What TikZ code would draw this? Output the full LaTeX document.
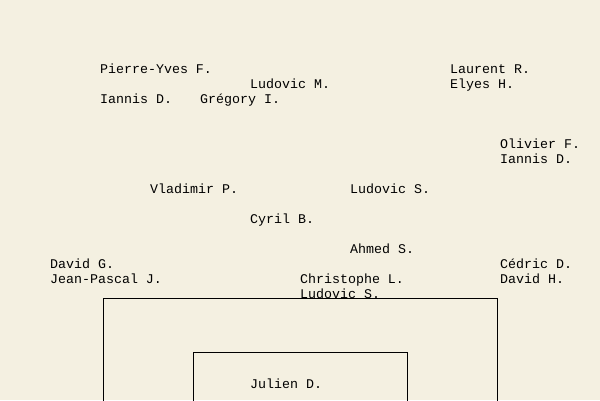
\documentclass[tikz,border=0pt]{standalone}
\usepackage{fontspec}
\setmonofont{Liberation Mono}
\definecolor{pitch}{HTML}{F4F0E1}

\begin{document}
\begin{tikzpicture}[x=1pt,y=-1pt,
		player/.style={anchor=base west,inner sep=0pt,font=\ttfamily\fontsize{13.3}{15}\selectfont}]
		\fill[pitch] (0,0) rectangle (600,400);
		\useasboundingbox (0,0) rectangle (600,400);
		
		\foreach \n/\x/\y[count=\i] in {Pierre-Yves F./100/68, Ludovic M./250/83, Iannis D./100/98, Grégory I./200/98,
			Laurent R./450/68, Elyes H./450/83, Olivier F./500/143, Iannis D./500/158,
			Vladimir P./150/188, Ludovic S./350/188, Cyril B./250/218, Ahmed S./350/248,
			David G./50/263, Jean-Pascal J./50/278, Cédric D./500/263, David H./500/278,
			Christophe L./300/278, Ludovic S./300/293, Julien D./250/383}{
			\node[player] (p\i) at (\x,\y+5) {\n};
		}
		
		\draw[line width=1pt] (103.5,298.5) rectangle (497.5,410);
		\draw[line width=1pt] (193.5,352.5) rectangle (407.5,410);
		\end{tikzpicture}
\end{document}
